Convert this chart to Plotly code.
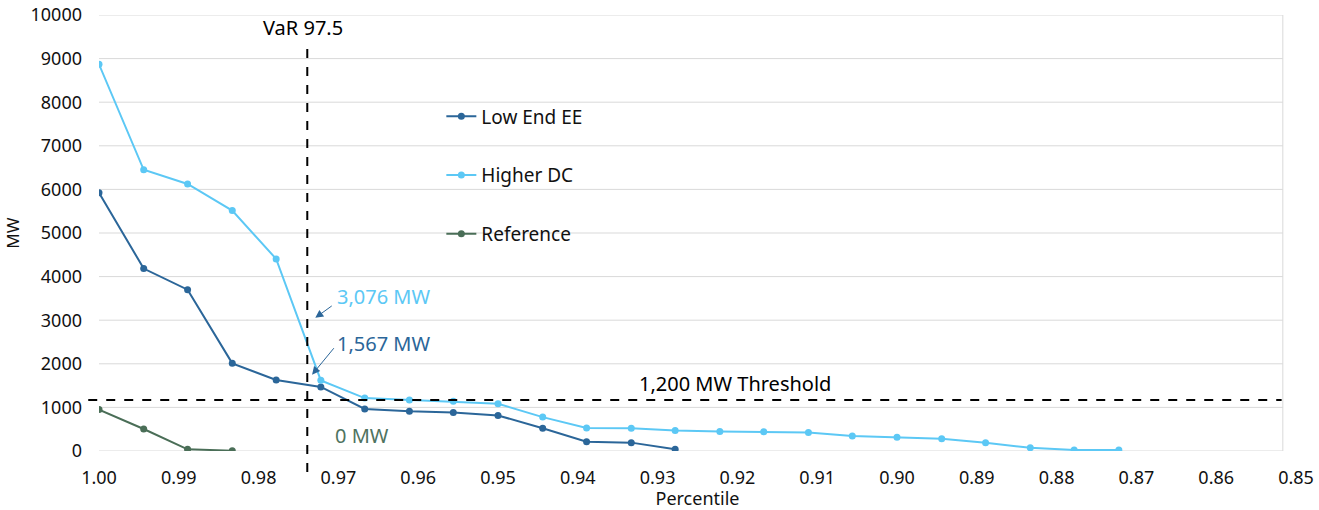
import plotly.graph_objects as go

# Percentile positions
x_pct = [1.0, 0.9944, 0.9889, 0.9833, 0.9778, 0.9722, 0.9667, 0.9611, 0.9556, 0.95,
         0.9444, 0.9389, 0.9333, 0.9278, 0.9222, 0.9167, 0.9111, 0.9056, 0.9,
         0.8944, 0.8889, 0.8833, 0.8778, 0.8722]

low_end_ee = [5925, 4185, 3700, 2010, 1630, 1470, 965, 912, 883, 815, 522, 215, 192, 38]
higher_dc = [8870, 6450, 6125, 5515, 4405, 1620, 1213, 1170, 1140, 1085, 777, 530, 522,
             468, 450, 440, 425, 345, 318, 283, 190, 72, 25, 25]
reference = [950, 505, 39, 8]

x_ticks = [1.00, 0.99, 0.98, 0.97, 0.96, 0.95, 0.94, 0.93, 0.92, 0.91, 0.90, 0.89, 0.88, 0.87, 0.86, 0.85]
x_tick_text = ["1.00", "0.99", "0.98", "0.97", "0.96", "0.95", "0.94", "0.93", "0.92", "0.91",
               "0.90", "0.89", "0.88", "0.87", "0.86", "0.85"]
y_ticks = [0, 1000, 2000, 3000, 4000, 5000, 6000, 7000, 8000, 9000, 10000]
y_tick_text = ["0", "1000", "2000", "3000", "4000", "5000", "6000", "7000", "8000", "9000", "10000"]

var_x = 0.9739
threshold_y = 1170

C_LOW = "#2B6699"
C_HDC = "#5CC8F5"
C_REF = "#4A6E57"
C_GRID = "#D9D9D9"
FONT = "Noto Sans"
PLOT_RIGHT = 0.989  # right border of plot frame (paper)

fig = go.Figure()
fig.add_trace(go.Scatter(x=x_pct[:len(low_end_ee)], y=low_end_ee, name="Low End EE",
                         mode="lines+markers", legendgroup="a",
                         line=dict(color=C_LOW, width=2), marker=dict(color=C_LOW, size=7)))
fig.add_trace(go.Scatter(x=x_pct[:len(higher_dc)], y=higher_dc, name="Higher DC",
                         mode="lines+markers", legendgroup="b",
                         line=dict(color=C_HDC, width=2), marker=dict(color=C_HDC, size=7)))
fig.add_trace(go.Scatter(x=x_pct[:len(reference)], y=reference, name="Reference",
                         mode="lines+markers", legendgroup="c",
                         line=dict(color=C_REF, width=2), marker=dict(color=C_REF, size=7)))

# gridlines ending at the plot frame
for yv in y_ticks:
    fig.add_shape(type="line", xref="paper", yref="y", x0=0, x1=PLOT_RIGHT, y0=yv, y1=yv,
                  line=dict(color=C_GRID, width=1), layer="below")
# right border
fig.add_shape(type="line", xref="paper", yref="paper", x0=PLOT_RIGHT, x1=PLOT_RIGHT, y0=0, y1=1,
              line=dict(color=C_GRID, width=1), layer="below")
# VaR vertical dashed line
fig.add_shape(type="line", xref="x", yref="paper", x0=var_x, x1=var_x, y0=-0.048, y1=0.932,
              line=dict(color="black", width=2, dash="dash"))
# Threshold horizontal dashed line
fig.add_shape(type="line", xref="paper", yref="y", x0=-0.009, x1=0.988, y0=threshold_y, y1=threshold_y,
              line=dict(color="black", width=2, dash="dash"))

annos = [
    dict(x=0.9744, y=9713, text="VaR 97.5", showarrow=False, xanchor="center", yanchor="middle",
         font=dict(size=20, color="black")),
    dict(x=0.9704, y=3536, text="3,076 MW", showarrow=False, xanchor="left", yanchor="middle",
         font=dict(size=20, color=C_HDC)),
    dict(x=0.9704, y=2457, text="1,567 MW", showarrow=False, xanchor="left", yanchor="middle",
         font=dict(size=20, color=C_LOW)),
    dict(x=0.9707, y=367, text="0 MW", showarrow=False, xanchor="left", yanchor="middle",
         font=dict(size=20, color="#4F7360")),
    dict(x=0.9203, y=1538, text="1,200 MW Threshold", showarrow=False, xanchor="center", yanchor="middle",
         font=dict(size=20, color="black")),
    dict(x=0.9729, y=3054, text="", showarrow=True, ax=18, ay=-13, arrowhead=2, arrowsize=1.6,
         arrowwidth=1, arrowcolor=C_LOW),
    dict(x=0.9733, y=1750, text="", showarrow=True, ax=23, ay=-28, arrowhead=2, arrowsize=1.6,
         arrowwidth=1, arrowcolor=C_LOW),
]
for a in annos:
    fig.add_annotation(**a)

fig.update_layout(
    width=1319, height=510,
    margin=dict(l=99, r=23, t=15, b=59, autoexpand=False),
    paper_bgcolor="white", plot_bgcolor="white",
    font=dict(family=FONT, size=18, color="#111111"),
    showlegend=True,
    legend=dict(x=0.286, y=0.811, xanchor="left", yanchor="top", bgcolor="rgba(0,0,0,0)",
                font=dict(size=19, color="#111111"), tracegroupgap=31),
    xaxis=dict(range=[1.0, 0.85], tickvals=x_ticks, ticktext=x_tick_text, showgrid=False,
               zeroline=False, showline=False, ticks="", ticklabelstandoff=14, automargin=False,
               tickfont=dict(size=18),
               title=dict(text="Percentile", font=dict(size=18), standoff=0)),
    yaxis=dict(range=[0, 10000], tickvals=y_ticks, ticktext=y_tick_text, showgrid=False,
               zeroline=False, showline=False, ticks="", automargin=False,
               ticklabelstandoff=16, tickfont=dict(size=18),
               title=dict(text="MW", font=dict(size=17), standoff=6)),
)

fig.write_html("out.html")
